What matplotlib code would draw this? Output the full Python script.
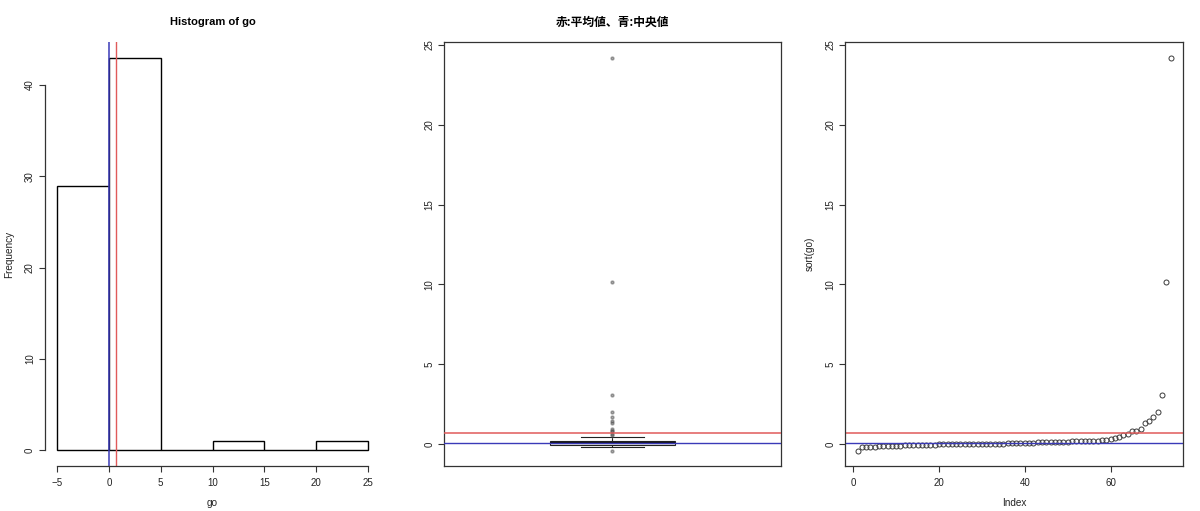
import matplotlib
matplotlib.use("Agg")
import matplotlib.pyplot as plt
import numpy as np

plt.rcParams['font.family'] = ['Liberation Sans', 'DejaVu Sans']

go = [-0.42, -0.22, -0.20, -0.19, -0.18, -0.15, -0.13, -0.12, -0.11, -0.11,
      -0.10, -0.09, -0.08, -0.08, -0.07, -0.07, -0.06, -0.04, -0.04, -0.03,
      -0.03, -0.03, -0.02, -0.02, -0.02, -0.01, -0.01, -0.01, -0.005, 0.01,
      0.01, 0.01, 0.02, 0.02, 0.02, 0.03, 0.04, 0.07, 0.07, 0.08,
      0.08, 0.09, 0.11, 0.11, 0.12, 0.12, 0.12, 0.12, 0.13, 0.15,
      0.16, 0.16, 0.17, 0.17, 0.18, 0.19, 0.21, 0.23, 0.27, 0.31,
      0.35, 0.45, 0.56, 0.63, 0.79, 0.83, 0.92, 1.30, 1.46, 1.71,
      1.98, 3.08, 10.15, 24.15]
hist_bins = [-5, 0, 5, 10, 15, 20, 25]
hist_yticks = [0, 10, 20, 30, 40]
val_yticks = [0, 5, 10, 15, 20, 25]
index_xticks = [0, 20, 40, 60]

go_arr = np.array(go)
go_mean = go_arr.mean()
go_median = np.median(go_arr)
go_sorted = np.sort(go_arr)

RED = '#e05a5a'
BLUE = '#3a3ab8'
FRAME = '#333333'
TICK_FS = 7.0
LAB_FS = 7.2

fig = plt.figure(figsize=(12, 5.11), dpi=100)

def style_ticks(ax):
    ax.tick_params(axis='both', direction='out', length=4, width=0.8,
                   colors=FRAME, labelsize=TICK_FS, labelcolor='#222222')
    ax.tick_params(axis='x', pad=5)
    ax.tick_params(axis='y', pad=3)
    for lab in ax.get_yticklabels():
        lab.set_rotation(90)
        lab.set_va('center')
        lab.set_ha('right')

# ---------- Histogram ----------
ax1 = fig.add_axes([0.0372, 0.0881, 0.2798, 0.8297])
ax1.hist(go_arr, bins=hist_bins, facecolor='white',
         edgecolor='black', linewidth=1.0)
ax1.set_xlim(-6.2, 26.2)
ax1.set_ylim(-1.72, 44.72)
ax1.axvline(go_median, color=BLUE, lw=1.1)
ax1.axvline(go_mean, color=RED, lw=1.0)
for s in ['top', 'right']:
    ax1.spines[s].set_visible(False)
ax1.spines['left'].set_bounds(0, 40)
ax1.spines['bottom'].set_bounds(-5, 25)
for s in ['left', 'bottom']:
    ax1.spines[s].set_color(FRAME)
    ax1.spines[s].set_linewidth(0.9)
ax1.set_xticks(hist_bins)
ax1.set_yticks(hist_yticks)
style_ticks(ax1)
ax1.set_xlabel('go', fontsize=LAB_FS, labelpad=7, color='#222222')
ax1.set_ylabel('Frequency', fontsize=LAB_FS, labelpad=8, color='#222222')
ax1.set_title('Histogram of go', fontsize=8.0, fontweight='bold', pad=12)

# ---------- Boxplot ----------
ax2 = fig.add_axes([0.370, 0.0881, 0.2808, 0.8297])
ax2.boxplot(go_arr, positions=[1], widths=0.37, whis=1.5,
            patch_artist=True,
            boxprops=dict(facecolor='white', edgecolor='#222222', linewidth=0.8),
            medianprops=dict(color='#111111', linewidth=1.6),
            whiskerprops=dict(color='#222222', linewidth=0.8, linestyle=(0, (3, 2))),
            capprops=dict(color='#222222', linewidth=0.8),
            flierprops=dict(marker='o', markersize=2.1, markerfacecolor='#555555',
                            markeredgecolor='#555555', alpha=0.5))
ax2.set_xlim(0.5, 1.5)
ax2.set_ylim(-1.38, 25.18)
ax2.axhline(go_mean, color=RED, lw=1.1, zorder=5)
ax2.axhline(go_median, color=BLUE, lw=1.0, zorder=5)
ax2.set_xticks([])
ax2.set_yticks(val_yticks)
for s in ax2.spines.values():
    s.set_color(FRAME)
    s.set_linewidth(0.9)
style_ticks(ax2)
ax2.set_title('赤:平均値、青:中央値', fontsize=8.5, fontweight='bold', pad=12,
              family=['Noto Sans CJK JP', 'DejaVu Sans'])

# ---------- Sorted index plot ----------
ax3 = fig.add_axes([0.7042, 0.0881, 0.2817, 0.8297])
idx = np.arange(1, len(go_sorted) + 1)
ax3.plot(idx, go_sorted, linestyle='none', marker='o', markersize=3.6,
         markerfacecolor='none', markeredgecolor='#3a3a3a', markeredgewidth=0.7)
ax3.set_xlim(-1.92, 76.92)
ax3.set_ylim(-1.38, 25.18)
ax3.axhline(go_mean, color=RED, lw=1.1)
ax3.axhline(go_median, color=BLUE, lw=1.0)
ax3.set_xticks(index_xticks)
ax3.set_yticks(val_yticks)
for s in ax3.spines.values():
    s.set_color(FRAME)
    s.set_linewidth(0.9)
style_ticks(ax3)
ax3.set_xlabel('Index', fontsize=LAB_FS, labelpad=7, color='#222222')
ax3.set_ylabel('sort(go)', fontsize=LAB_FS, labelpad=8, color='#222222')

fig.savefig('out.png', dpi=100, facecolor='white')
